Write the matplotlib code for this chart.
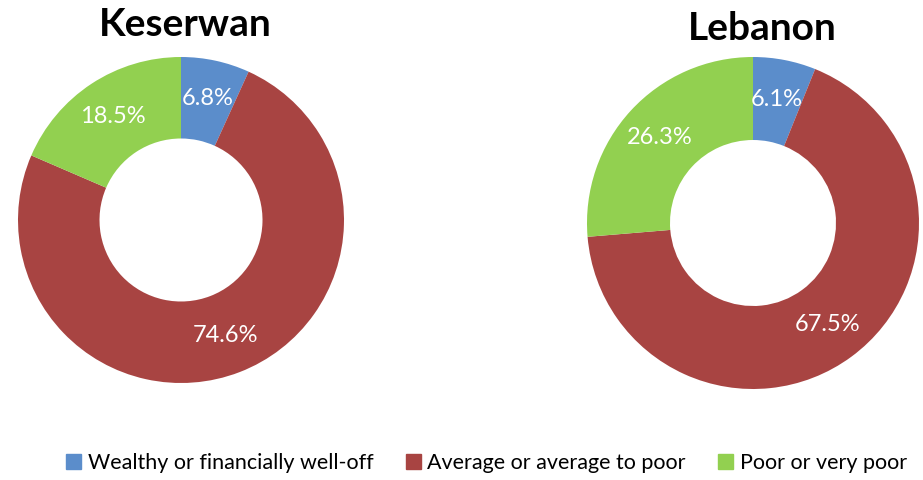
import matplotlib.pyplot as plt
from matplotlib.patches import Patch

# Data
categories = ['Wealthy or financially well-off', 'Average or average to poor', 'Poor or very poor']
keserwan = [6.8, 74.6, 18.5]
lebanon = [6.1, 67.5, 26.3]
colors = ['#5B8DCB', '#A84442', '#92D050']

plt.rcParams['font.family'] = ['Lato', 'DejaVu Sans']

W, H = 923, 480
fig = plt.figure(figsize=(W / 100, H / 100), dpi=100)


def donut(cx, cy, r, values, title, tx, ty):
    # axes box in pixels -> figure fraction
    ax = fig.add_axes([(cx - r) / W, (H - cy - r) / H, 2 * r / W, 2 * r / H])
    it = iter(values)
    ax.pie(values, colors=colors, startangle=90, counterclock=False,
           radius=1, wedgeprops=dict(width=0.5, edgecolor='none'),
           autopct=lambda p: f'{next(it)}%', pctdistance=0.76,
           textprops=dict(color='white', fontsize=17))
    ax.set_xlim(-1, 1)
    ax.set_ylim(-1, 1)
    ax.set_aspect('equal')
    ax.axis('off')
    fig.text(tx / W, 1 - ty / H, title, ha='center', va='center',
             fontsize=28, fontweight='bold')


donut(181, 220, 163, keserwan, 'Keserwan', 185, 25)
donut(753, 223, 166, lebanon, 'Lebanon', 762, 28)

handles = [Patch(color=c, label=l) for c, l in zip(colors, categories)]
fig.legend(handles=handles, loc='center', bbox_to_anchor=(0.527, 1 - 463 / H),
           ncol=3, frameon=False, fontsize=15.5, handlelength=0.7, handleheight=0.7,
           handletextpad=0.3, columnspacing=1.5)

fig.savefig('out.png', dpi=100)
